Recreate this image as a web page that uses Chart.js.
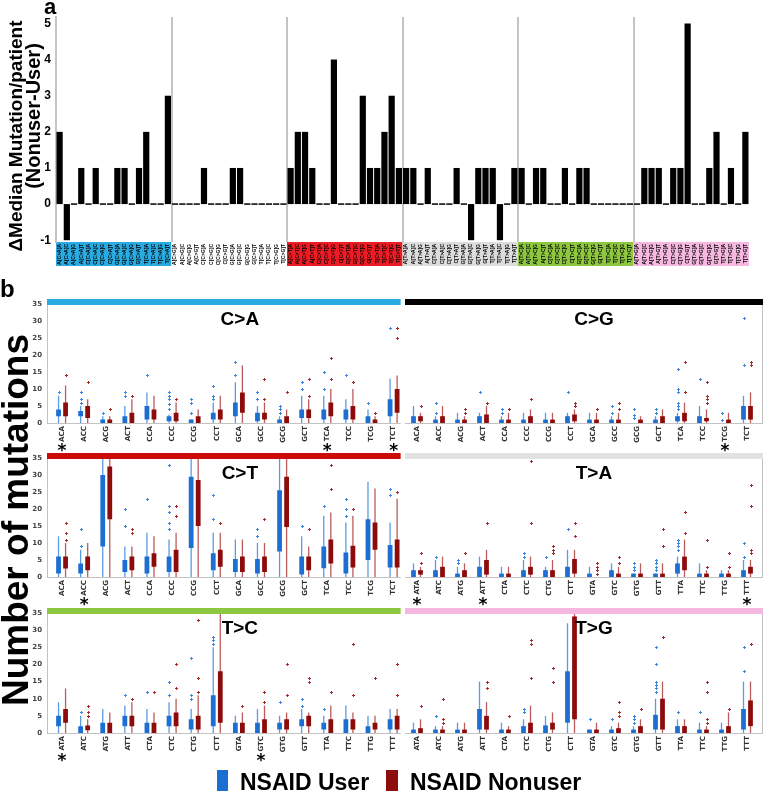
<!DOCTYPE html>
<html><head><meta charset="utf-8">
<script src="https://cdn.jsdelivr.net/npm/chart.js@4.4.0/dist/chart.umd.min.js"></script>
<style>
body{margin:0;background:#fff;}
#wrap{position:relative;width:766px;height:793px;overflow:hidden;font-family:'Liberation Sans',Arial,sans-serif;background:#fff;}
canvas{position:absolute;}
.t{position:absolute;white-space:nowrap;font-weight:bold;line-height:1;color:#000;}
.rot{transform:translate(-50%,-50%) rotate(-90deg);}
.sw{position:absolute;}
</style></head><body><div id="wrap">
<canvas id="pa" width="766" height="275" style="left:0;top:0"></canvas>
<canvas id="b1l" width="405" height="173" style="left:0;top:290px"></canvas>
<canvas id="b1r" width="361" height="173" style="left:405px;top:290px"></canvas>
<canvas id="b2l" width="405" height="173" style="left:0;top:444px"></canvas>
<canvas id="b2r" width="361" height="173" style="left:405px;top:444px"></canvas>
<canvas id="b3l" width="405" height="174" style="left:0;top:599px"></canvas>
<canvas id="b3r" width="361" height="174" style="left:405px;top:599px"></canvas>
<div class="t" style="left:44px;top:-4px;font-size:22px">a</div>
<div class="t" style="left:0px;top:277px;font-size:24px">b</div>
<div class="t rot" style="left:15px;top:136px;font-size:19px">ΔMedian Mutation/patient</div>
<div class="t rot" style="left:33px;top:116px;font-size:20px">(Nonuser-User)</div>
<div class="t rot" style="left:15px;top:520px;font-size:37px">Number of mutations</div>
<div class="sw" style="left:217px;top:770px;width:11px;height:21px;background:#1c6fd2"></div>
<div class="t" style="left:240px;top:771px;font-size:23px">NSAID User</div>
<div class="sw" style="left:386px;top:770px;width:12px;height:21px;background:#8c0b0b"></div>
<div class="t" style="left:410px;top:771px;font-size:23px">NSAID Nonuser</div>
</div>
<script>
// ---------- Panel a data ----------
const BASES = ['A','C','G','T'];
const TYPES = ['C>A','C>G','C>T','T>A','T>C','T>G'];
const GROUP_COLORS = ['#29abe2','#ffffff','#ed1c24','#dcdcdc','#8dc63f','#f6b8e0'];
const DELTA_CA = [2,-1,0,1,0,1,0,0,1,1,0,1,2,0,0,3];
const DELTA_CG = [0,0,0,0,1,0,0,0,1,1,0,0,0,0,0,0];
const DELTA_CT = [1,2,2,1,0,0,4,0,0,0,3,1,1,2,3,1];
const DELTA_TA = [1,1,0,1,0,0,0,1,0,-1,1,1,1,-1,0,1];
const DELTA_TC = [1,0,1,1,0,0,1,0,1,1,0,0,0,0,0,0];
const DELTA_TG = [0,1,1,1,0,1,1,5,0,0,1,2,0,1,0,2];
const A_TICKS = [-1,0,1,2,3,4,5];

// ---------- Panel b categories ----------
const CX_CATS = ['ACA','ACC','ACG','ACT','CCA','CCC','CCG','CCT','GCA','GCC','GCG','GCT','TCA','TCC','TCG','TCT'];
const TX_CATS = ['ATA','ATC','ATG','ATT','CTA','CTC','CTG','CTT','GTA','GTC','GTG','GTT','TTA','TTC','TTG','TTT'];
const B_TICKS = [0,5,10,15,20,25,30,35];

// C>A
const CA_U_Q1 = [2,2,0,0,1,0.5,0,1,2,0.5,0,1.5,1,1,0,2];
const CA_U_Q3 = [4,3.5,1,2,5,2,1,3,6,3,1,4,4,4,2,7];
const CA_U_HI = [8,5,2,5,9,2.5,1,6,12,5,2,8,8,7,4,13];
const CA_U_OUT = [[9],[6,7,9],[3],[8,9],[14],[4,5.5,7,8,9],[3,6,7],[7,8,11],[14,18],[7,9],[3,4,5],[10,12],[10,15],[14],[6],[28]];
const CA_N_Q1 = [2,1.5,0,0,1,0.5,0,1,3,1,0,1.5,2,1,0,3];
const CA_N_Q3 = [6,5,1,3,4,3,2,4,9,3,2,4,6,5,1,10];
const CA_N_HI = [11,7,2,7,8,6,4,8,17,6,4,7,10,10,2,14];
const CA_N_OUT = [[14],[12],[4],[8],[],[7],[],[],[],[7,13],[9],[8,13],[13,19],[12],[3],[25,28]];
// C>G
const CG_U_Q1 = [0,0,0,0,0,0,0,0,0,0,0,0,0.5,0,0,1];
const CG_U_Q3 = [2,1,1,2,1,1,1,2,1,1,0,1,2,2,0,5];
const CG_U_HI = [5,2,3,3,2,3,3,3,3,2,0,2,3,5,0,8];
const CG_U_OUT = [[],[3,6],[],[9],[3,4],[],[],[9],[],[3,5],[1.5,2.5,4],[3,4],[4,5,6,9,10,16],[13],[1,3],[17,31]];
const CG_N_Q1 = [0.5,0,0,0,0,0,0,0.5,0,0,0,0,0.5,0.5,0,1];
const CG_N_Q3 = [2,2,1,2.5,1,2,1,2.5,1,1,1,2,3,1.5,1,5];
const CG_N_HI = [3,5,2,5,3,4,3,4,3,3,2,4,6,4,3,9];
const CG_N_OUT = [[5],[],[3,4],[6],[4],[7],[],[5,6],[4],[4,6],[],[],[9,18],[6,7,8,12],[],[17,18]];
// C>T
const CT_U_Q1 = [1,1,9,1.5,1,1.5,8.5,2,1.5,1,7.5,0.7,2.6,1,5,2.8];
const CT_U_Q3 = [6,4,30,5,6,6,29.5,7,5.3,5.3,25.5,6,9,7.2,17,9.4];
const CT_U_HI = [12,8,40,9,13,11,40,13,11,10,40,12,18,16,28,16];
const CT_U_OUT = [[],[9,14],[],[15,20],[23],[14,16,19,21,33],[],[17,24],[],[12,14],[],[15],[21],[18,20,23],[],[24,26]];
const CT_N_Q1 = [2.5,2,17,2,3,1.5,15,3,1.5,1.5,14.7,2,4,2.8,8,2.8];
const CT_N_Q3 = [6,6,32.5,6,7,8,28.5,8,6,6,29.5,6,11,9.2,16,11];
const CT_N_HI = [10,10,40,9,12,13,40,13,11,10,40,9,19,18,26,23];
const CT_N_OUT = [[11,13,16],[],[],[13,14],[],[18,21],[],[16],[],[17],[],[14],[26,33],[20],[],[25]];
// T>A
const TA_U_Q1 = [0,0,0,0,0,0,0,0,0,0,0,0,1,0,0,0];
const TA_U_Q3 = [2,2,1,3,1,2,2,3,1,2,1,1,4,1,1,2];
const TA_U_HI = [4,5,3,6,3,5,3,8,3,4,1,1,6,4,2,5];
const TA_U_OUT = [[],[6],[4,5],[],[],[6,7],[6],[14],[],[],[2,3,4],[2,3,4,5],[8,9,10,11],[],[],[6,10]];
const TA_N_Q1 = [0.7,0,0,0.7,0,0.7,0,1,0,0,0,0,2,0,0,1];
const TA_N_Q3 = [2,3,2,5,1,3,2,5.3,0,1,1,1,6,1,1,3];
const TA_N_HI = [3,6,4,8,3,6,5,8,0,3,4,4,11,2,2,5];
const TA_N_OUT = [[4,7],[],[7],[16],[],[16,34],[7,8,9],[12,16],[1,2,3,4],[4,6],[],[9,14],[13,19],[3,11],[3,7],[7,8,21,27]];
// T>C
const TC_U_Q1 = [2,0,0,2,0,2,1,2,0,0,1,2,1,0,0,1];
const TC_U_Q3 = [5,2,3,5,3,5,4,11,3,3,3,4,3,4,2,4];
const TC_U_HI = [9,5,7,8,7,9,7,25,5,7,5,7,5,8,5,7];
const TC_U_OUT = [[],[6],[],[11],[12],[11,15],[10,11,22],[26,27,28],[],[],[9],[8,10],[7],[],[],[]];
const TC_N_Q1 = [3,0.8,0,2,0,2,1,3,0,0,1,2,0,1,1,1];
const TC_N_Q3 = [7,2.2,3,5,3,6,5,18,3,4,4,5,4,4,3,5];
const TC_N_HI = [13,4,6,9,6,10,11,40,6,8,6,6,8,6,5,7];
const TC_N_OUT = [[],[5,6,8],[],[10],[12],[13,20],[12,16,33],[],[8],[9,12],[11,20],[15,16],[12],[11,26],[16],[11,20]];
// T>G
const TG_U_Q1 = [0,0,0,1,0,0,0,3,0,0,0,1,0,0,0,1];
const TG_U_Q3 = [1,1,1,7,1,2,2.2,18,1,1,1,5.3,2,1,1,7];
const TG_U_HI = [3,2,3,15,3,4,5,32,1,2,2,10,4,3,3,15];
const TG_U_OUT = [[],[5],[],[],[],[6,7],[],[],[4],[4],[3,4,5],[12,13,14,15,20,25],[6],[6],[],[18,25]];
const TG_N_Q1 = [0,0,0,1,0,0,1,4,0,0,0,1,0,0,0,2];
const TG_N_Q3 = [1.4,1,1,5,1,3,3,34,1,1.4,2,10,2,1,2,9.5];
const TG_N_HI = [4,2,3,9,2,8,6,40,3,3,4,15,4,2,6,15];
const TG_N_OUT = [[8],[3,4,10],[],[13,15],[5],[16,26,27],[15,19],[],[],[5,6,9],[7],[28],[],[3,4,12,15],[7],[26]];

// significance stars (category names)
const CA_STARS = ['ACA','TCA','TCT'];
const CG_STARS = ['TCG'];
const CT_STARS = ['ACC'];
const TA_STARS = ['ATA','ATT','TTT'];
const TC_STARS = ['ATA','GTC'];
const TG_STARS = [];

const USER_BOX = '#1c6fd2', USER_WHISK = '#5b9be6', USER_OUT = '#3c86e0';
const NON_BOX = '#8c0b0b', NON_WHISK = '#bb5c5c', NON_OUT = '#a52a2a';
const STRIP = {CA:'#29abe2', CG:'#000000', CT:'#cc0a0a', TA:'#e2e2e2', TC:'#8dc63f', TG:'#f5b6e0'};

Chart.defaults.font.family = "'Liberation Sans', Arial, sans-serif";

// ---------- Panel a ----------
const DELTA = [].concat(DELTA_CA, DELTA_CG, DELTA_CT, DELTA_TA, DELTA_TC, DELTA_TG);
const A_LABELS = [];
TYPES.forEach(t => BASES.forEach(l => BASES.forEach(r => A_LABELS.push(l + '[' + t + ']' + r))));

const groupBg = {
  id: 'groupBg',
  beforeDraw(chart) {
    const {ctx, chartArea: ca, scales: {x}} = chart;
    const w = x.getPixelForValue(1) - x.getPixelForValue(0);
    ctx.save();
    TYPES.forEach((t, g) => {
      const x0 = x.getPixelForValue(g * 16) - w / 2;
      const x1 = x.getPixelForValue(g * 16 + 15) + w / 2;
      ctx.fillStyle = GROUP_COLORS[g];
      ctx.fillRect(x0, ca.bottom, x1 - x0, 24);
    });
    ctx.restore();
  }
};

new Chart(document.getElementById('pa'), {
  type: 'bar',
  data: {labels: A_LABELS, datasets: [{
    label: 'ΔMedian', data: DELTA, backgroundColor: '#000', borderWidth: 0,
    categoryPercentage: 1, barPercentage: 0.86, minBarLength: 1.5
  }]},
  options: {
    responsive: false, animation: false,
    layout: {padding: {top: 17, right: 17, left: 0, bottom: 0}},
    plugins: {legend: {display: false}, tooltip: {enabled: false}},
    scales: {
      x: {
        grid: {offset: true, drawTicks: false, lineWidth: 2,
          color: c => (c.index !== undefined && c.index % 16 === 0 && c.index > 0) ? '#c4c4c4' : 'rgba(0,0,0,0)'},
        border: {display: false},
        ticks: {autoSkip: false, minRotation: 90, maxRotation: 90, padding: 2,
          font: {size: 5, weight: 'bold'}, color: '#000'},
        afterFit: s => { s.height = 33; }
      },
      y: {
        min: -1.05, max: 5.18,
        afterBuildTicks: s => { s.ticks = A_TICKS.map(v => ({value: v})); },
        ticks: {padding: 5, font: {size: 12, weight: 'bold'}, color: '#000'},
        grid: {display: false, drawTicks: false},
        border: {display: true, color: '#c4c4c4', width: 2},
        afterFit: s => { s.width = 56; }
      }
    }
  },
  plugins: [groupBg]
});

// ---------- Panel b ----------
function pairs(a, b) { return a.map((v, i) => [v, b[i]]); }
function whisk(hi) { return hi.map(v => [0, v]); }

function boxChart(id, side, cats, s, title, stars) {
  const CP = 14 / 22;
  const isLeft = side === 'left';
  const decor = {
    id: 'decor' + id,
    beforeDatasetsDraw(chart) {
      const {ctx, chartArea: ca} = chart;
      const l = isLeft ? ca.left - 4 : ca.left - 5;
      const r = isLeft ? ca.right - 4 : ca.right + 5;
      ctx.save();
      ctx.strokeStyle = '#c2c2c2'; ctx.lineWidth = 1;
      ctx.beginPath();
      ctx.moveTo(l, ca.bottom + 0.5); ctx.lineTo(r, ca.bottom + 0.5);
      if (isLeft) { ctx.moveTo(l + 0.5, ca.top); ctx.lineTo(l + 0.5, ca.bottom); }
      else { ctx.moveTo(r - 0.5, ca.top); ctx.lineTo(r - 0.5, ca.bottom); }
      ctx.stroke();
      ctx.restore();
    },
    afterDraw(chart) {
      const {ctx, chartArea: ca, scales: {x}} = chart;
      const l = isLeft ? ca.left - 4 : ca.left - 5;
      const r = isLeft ? ca.right - 4 : ca.right + 5;
      ctx.save();
      ctx.fillStyle = s.strip;
      ctx.fillRect(l, ca.top - 5, r - l, 6);
      ctx.fillStyle = '#000';
      ctx.font = "bold 19px 'Liberation Sans', Arial, sans-serif";
      ctx.textAlign = 'center'; ctx.textBaseline = 'middle';
      ctx.fillText(title, ca.left + 0.534 * ca.width, ca.top + 16);
      ctx.font = "bold 17px 'DejaVu Sans', sans-serif";
      stars.forEach(c => {
        const px = x.getPixelForValue(cats.indexOf(c));
        ctx.fillText('*', px, ca.bottom + 29);
      });
      // outliers
      ctx.beginPath(); ctx.rect(ca.left, ca.top - 1, ca.width + 2, ca.height + 2); ctx.clip();
      const y = chart.scales.y;
      [[0, s.uOut, USER_OUT], [2, s.nOut, NON_OUT]].forEach(([ds, pts, col]) => {
        const meta = chart.getDatasetMeta(ds);
        ctx.strokeStyle = col; ctx.lineWidth = 1;
        pts.forEach((arr, i) => {
          const px = Math.round(meta.data[i].x) + 0.5;
          arr.forEach(v => {
            const py = Math.round(y.getPixelForValue(v)) + 0.5;
            ctx.beginPath();
            ctx.moveTo(px - 1.5, py); ctx.lineTo(px + 1.5, py);
            ctx.moveTo(px, py - 1.5); ctx.lineTo(px, py + 1.5);
            ctx.stroke();
          });
        });
      });
      ctx.restore();
    }
  };
  const base = {categoryPercentage: CP, borderWidth: 0, clip: 0};
  new Chart(document.getElementById(id), {
    type: 'bar',
    data: {labels: cats, datasets: [
      Object.assign({label: 'NSAID User', data: pairs(s.uQ1, s.uQ3), backgroundColor: USER_BOX, stack: 'u', order: 1, barPercentage: 0.68}, base),
      Object.assign({label: 'NSAID User range', data: whisk(s.uHi), backgroundColor: USER_WHISK, stack: 'u', order: 2, barPercentage: 1, maxBarThickness: 1.3}, base),
      Object.assign({label: 'NSAID Nonuser', data: pairs(s.nQ1, s.nQ3), backgroundColor: NON_BOX, stack: 'n', order: 1, barPercentage: 0.68}, base),
      Object.assign({label: 'NSAID Nonuser range', data: whisk(s.nHi), backgroundColor: NON_WHISK, stack: 'n', order: 2, barPercentage: 1, maxBarThickness: 1.3}, base)
    ]},
    options: {
      responsive: false, animation: false,
      layout: {padding: isLeft ? {top: 14, left: 0, right: 0, bottom: 0} : {top: 14, left: 1, right: 8, bottom: 0}},
      plugins: {legend: {display: false}, tooltip: {enabled: false}},
      scales: {
        x: {
          stacked: true,
          grid: {display: false, drawTicks: false}, border: {display: false},
          ticks: {autoSkip: false, minRotation: 90, maxRotation: 90, padding: 3,
            font: {size: 7, weight: 'bold', family: "'DejaVu Sans', sans-serif"}, color: '#333'},
          afterFit: sc => { sc.height = 40; }
        },
        y: {
          display: isLeft, stacked: false, min: 0, max: 35,
          afterBuildTicks: sc => { sc.ticks = B_TICKS.map(v => ({value: v})); },
          grid: {display: false, drawTicks: false}, border: {display: false},
          ticks: {padding: 9, font: {size: 7, weight: 'bold', family: "'DejaVu Sans', sans-serif"}, color: '#444'},
          afterFit: sc => { sc.width = isLeft ? 51 : 0; }
        }
      }
    },
    plugins: [decor]
  });
}

boxChart('b1l', 'left', CX_CATS, {uQ1: CA_U_Q1, uQ3: CA_U_Q3, uHi: CA_U_HI, uOut: CA_U_OUT, nQ1: CA_N_Q1, nQ3: CA_N_Q3, nHi: CA_N_HI, nOut: CA_N_OUT, strip: STRIP.CA}, 'C>A', CA_STARS);
boxChart('b1r', 'right', CX_CATS, {uQ1: CG_U_Q1, uQ3: CG_U_Q3, uHi: CG_U_HI, uOut: CG_U_OUT, nQ1: CG_N_Q1, nQ3: CG_N_Q3, nHi: CG_N_HI, nOut: CG_N_OUT, strip: STRIP.CG}, 'C>G', CG_STARS);
boxChart('b2l', 'left', CX_CATS, {uQ1: CT_U_Q1, uQ3: CT_U_Q3, uHi: CT_U_HI, uOut: CT_U_OUT, nQ1: CT_N_Q1, nQ3: CT_N_Q3, nHi: CT_N_HI, nOut: CT_N_OUT, strip: STRIP.CT}, 'C>T', CT_STARS);
boxChart('b2r', 'right', TX_CATS, {uQ1: TA_U_Q1, uQ3: TA_U_Q3, uHi: TA_U_HI, uOut: TA_U_OUT, nQ1: TA_N_Q1, nQ3: TA_N_Q3, nHi: TA_N_HI, nOut: TA_N_OUT, strip: STRIP.TA}, 'T>A', TA_STARS);
boxChart('b3l', 'left', TX_CATS, {uQ1: TC_U_Q1, uQ3: TC_U_Q3, uHi: TC_U_HI, uOut: TC_U_OUT, nQ1: TC_N_Q1, nQ3: TC_N_Q3, nHi: TC_N_HI, nOut: TC_N_OUT, strip: STRIP.TC}, 'T>C', TC_STARS);
boxChart('b3r', 'right', TX_CATS, {uQ1: TG_U_Q1, uQ3: TG_U_Q3, uHi: TG_U_HI, uOut: TG_U_OUT, nQ1: TG_N_Q1, nQ3: TG_N_Q3, nHi: TG_N_HI, nOut: TG_N_OUT, strip: STRIP.TG}, 'T>G', TG_STARS);
</script>
</body></html>
